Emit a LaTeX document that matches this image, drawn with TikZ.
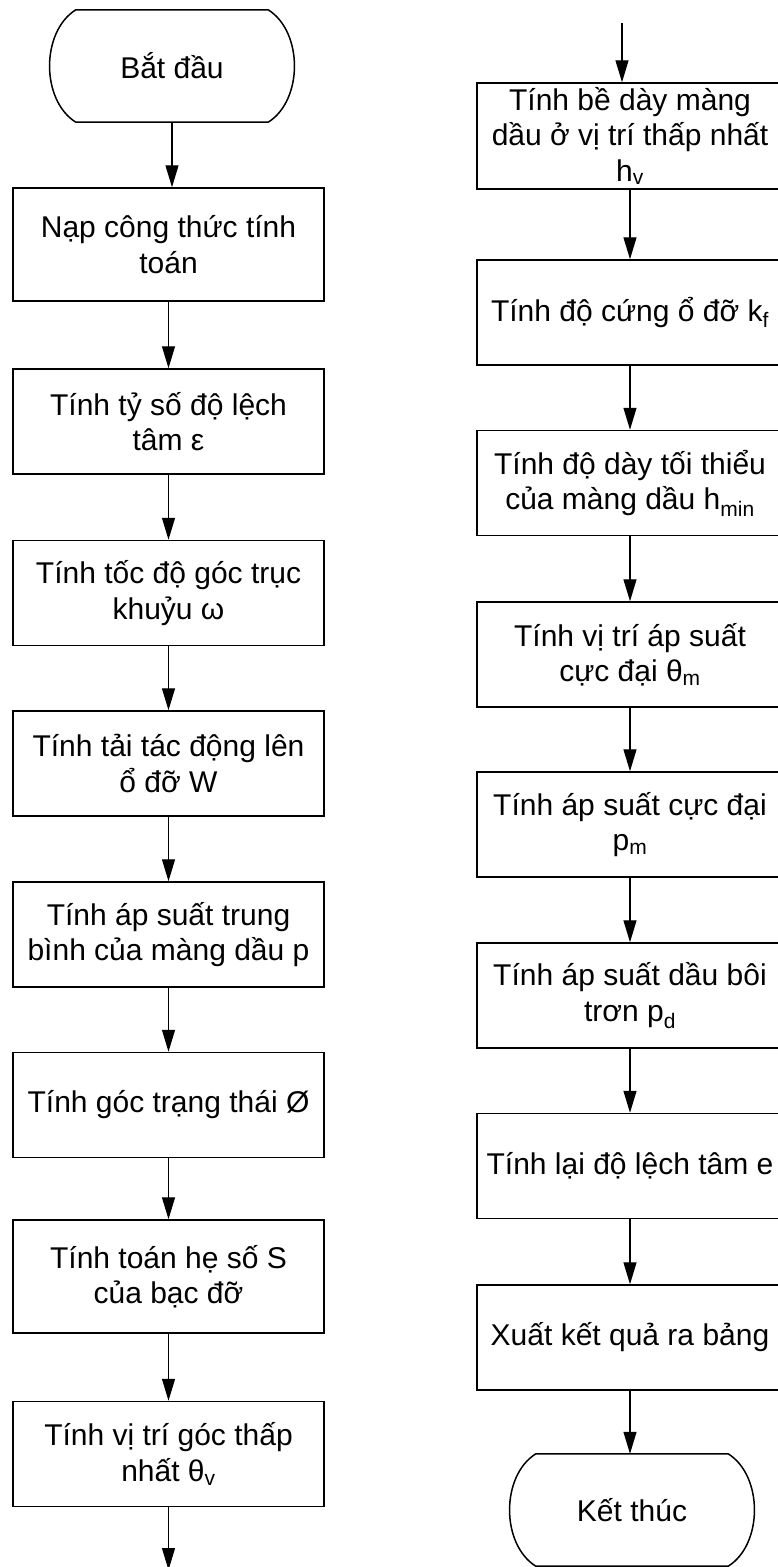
\documentclass[tikz,border=0pt]{standalone}
\usepackage{fontspec}
\setmainfont{Liberation Sans}
\usetikzlibrary{arrows.meta}

\begin{document}
\begin{tikzpicture}[
  x=1pt,y=-1pt,
  font=\fontsize{30}{35.5}\selectfont,
  >={Triangle[length=22pt,width=13pt]},
  box/.style={draw,line width=1.5pt,minimum width=311pt,minimum height=105pt,inner sep=0pt,align=center},
  rbox/.style={box,minimum width=306pt},
  term/.style={minimum width=192pt,minimum height=112pt,inner sep=0pt},
  flow/.style={->,line width=1.3pt},
  outline/.style={line width=1.5pt}
]
\useasboundingbox (0,0) rectangle (778,1567);

% left column: from start down to the lowest angle
\node[term] (start) at (172,66) {Bắt đầu};
\node[box,minimum height=113pt] (nap) at (168.5,244.5) {Nạp công thức tính\\toán};
\node[box] (eps) at (168.5,421.5) {Tính tỷ số độ lệch\\tâm ε};
\node[box] (omega) at (168.5,593) {Tính tốc độ góc trục\\khuỷu ω};
\node[box] (load) at (168.5,763.5) {Tính tải tác động lên\\ổ đỡ W};
\node[box] (pmean) at (168.5,934.5) {Tính áp suất trung\\bình của màng dầu p};
\node[box] (phi) at (168.5,1105) {Tính góc trạng thái Ø};
\node[box,minimum height=113pt] (coefS) at (168.5,1276.5) {Tính toán hẹ số S\\của bạc đỡ};
\node[box] (thv) at (168.5,1454) {Tính vị trí góc thấp\\nhất θ\textsubscript{v}};
\coordinate (lout) at (168.5,1570);

\draw[flow] (start) -- (start |- nap.north);
\draw[flow] (nap) -- (eps);
\draw[flow] (eps) -- (omega);
\draw[flow] (omega) -- (load);
\draw[flow] (load) -- (pmean);
\draw[flow] (pmean) -- (phi);
\draw[flow] (phi) -- (coefS);
\draw[flow] (coefS) -- (thv);
\draw[flow] (thv) -- (lout);

% right column: film thickness to output
\coordinate (rin) at (622,23);
\node[rbox,minimum height=106pt] (hv) at (630,136) {Tính bề dày màng\\dầu ở vị trí thấp nhất\\h\textsubscript{v}};
\node[rbox] (kf) at (630,312.5) {Tính độ cứng ổ đỡ k\textsubscript{f}};
\node[rbox] (hmin) at (630,483) {Tính độ dày tối thiểu\\của màng dầu h\textsubscript{min}};
\node[rbox] (thm) at (630,654.5) {Tính vị trí áp suất\\cực đại θ\textsubscript{m}};
\node[rbox] (pm) at (630,824.5) {Tính áp suất cực đại\\p\textsubscript{m}};
\node[rbox] (pd) at (630,995.5) {Tính áp suất dầu bôi\\trơn p\textsubscript{d}};
\node[rbox] (ecc) at (630,1166) {Tính lại độ lệch tâm e};
\node[rbox] (out) at (630,1337.5) {Xuất kết quả ra bảng};
\node[term] (stop) at (632,1510) {Kết thúc};

\draw[flow] (rin) -- (rin |- hv.north);
\draw[flow] (hv) -- (kf);
\draw[flow] (kf) -- (hmin);
\draw[flow] (hmin) -- (thm);
\draw[flow] (thm) -- (pm);
\draw[flow] (pm) -- (pd);
\draw[flow] (pd) -- (ecc);
\draw[flow] (ecc) -- (out);
\draw[flow] (out.south) -- (out.south |- stop.north);

% terminator outlines
\foreach \t in {start,stop}
  \draw[outline] (\t.north west) -- (\t.north east)
    .. controls +(35,22) and +(35,-22) .. (\t.south east) -- (\t.south west)
    .. controls +(-35,-22) and +(-35,22) .. (\t.north west) -- cycle;
\end{tikzpicture}
\end{document}
